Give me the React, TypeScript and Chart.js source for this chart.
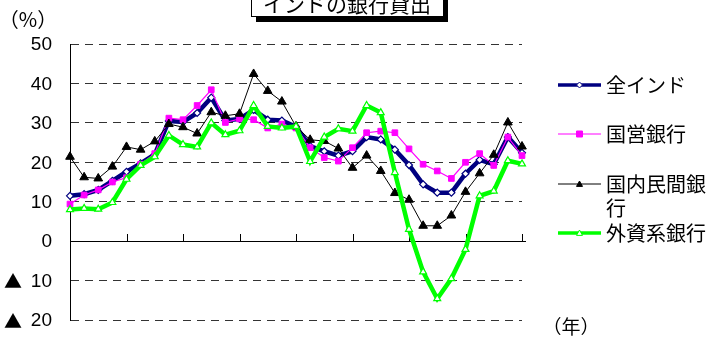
import React, { useEffect, useRef } from "react";
import { Chart, registerables } from "chart.js";

Chart.register(...registerables);

// Quarterly periods (33 observations, axis ticks every 4 quarters)
const periods = [
  "1", "2", "3", "4", "5", "6", "7", "8", "9", "10", "11",
  "12", "13", "14", "15", "16", "17", "18", "19", "20", "21", "22",
  "23", "24", "25", "26", "27", "28", "29", "30", "31", "32", "33",
];

// Loan growth, year on year (%)
const allIndia = [
  11.5, 11.9, 13.0, 15.3, 17.6, 19.7, 22.0, 30.5, 30.2, 32.5, 36.4,
  30.6, 31.0, 33.3, 30.8, 30.6, 29.0, 24.1, 22.8, 21.7, 22.8, 26.4,
  25.8, 23.2, 19.3, 14.4, 12.3, 12.3, 17.1, 20.6, 19.5, 26.4, 22.4,
];
const publicBanks = [
  9.4, 11.7, 13.0, 15.0, 16.1, 19.5, 22.2, 31.2, 30.8, 34.4, 38.4,
  30.1, 31.0, 30.8, 28.7, 29.7, 28.7, 23.7, 21.2, 20.3, 23.7, 27.5,
  27.9, 27.5, 23.4, 19.5, 17.8, 15.9, 20.0, 22.2, 19.2, 26.4, 21.7,
];
const privateBanks = [
  21.4, 16.2, 15.9, 18.9, 23.9, 23.2, 25.3, 29.7, 28.9, 27.3, 32.7,
  31.8, 32.3, 42.4, 38.1, 35.4, 29.1, 25.7, 25.4, 23.5, 18.6, 21.7,
  17.8, 12.2, 10.5, 3.9, 3.9, 6.5, 12.5, 17.2, 21.9, 30.1, 24.0,
];
const foreignBanks = [
  8.0, 8.3, 8.1, 9.8, 15.7, 19.2, 21.4, 26.8, 24.5, 23.9, 30.0,
  27.0, 28.0, 34.4, 29.1, 28.7, 29.1, 20.2, 26.4, 28.5, 27.9, 34.4,
  32.6, 17.4, 3.0, -7.8, -14.6, -9.5, -2.1, 11.5, 12.7, 20.4, 19.6,
];

const seriesNames = ["全インド", "国営銀行", "国内民間銀行", "外資系銀行"];
const yTicks = [50, 40, 30, 20, 10, 0, -10, -20];
const negMark = "▲";

const titleText = "インドの銀行貸出";
const unitText = "（%）";
const yearText = "（年）";

const JP = '"Noto Sans CJK JP", "Noto Sans", sans-serif';
const NUM = '"Liberation Sans", Arial, sans-serif';

type Marker = "diamond" | "square" | "triangle";

function drawMarker(
  ctx: CanvasRenderingContext2D,
  kind: Marker,
  x: number,
  y: number,
  r: number,
  fill: string,
  stroke: string,
  lw: number
) {
  ctx.save();
  ctx.beginPath();
  if (kind === "diamond") {
    ctx.moveTo(x, y - r);
    ctx.lineTo(x + r, y);
    ctx.lineTo(x, y + r);
    ctx.lineTo(x - r, y);
    ctx.closePath();
  } else if (kind === "square") {
    ctx.rect(x - r, y - r, r * 2, r * 2);
  } else {
    ctx.moveTo(x, y - r);
    ctx.lineTo(x + r, y + r * 0.8);
    ctx.lineTo(x - r, y + r * 0.8);
    ctx.closePath();
  }
  ctx.fillStyle = fill;
  ctx.fill();
  ctx.lineWidth = lw;
  ctx.strokeStyle = stroke;
  ctx.stroke();
  ctx.restore();
}

const legendRows = [
  { label: [seriesNames[0]], color: "#000080", width: 3.5, marker: "diamond" as Marker, fill: "#ffffff", y: 85 },
  { label: [seriesNames[1]], color: "#ff00ff", width: 1, marker: "square" as Marker, fill: "#ff00ff", y: 134 },
  { label: ["国内民間銀", "行"], color: "#000000", width: 1, marker: "triangle" as Marker, fill: "#000000", y: 184 },
  { label: [seriesNames[3]], color: "#00ff00", width: 3.5, marker: "triangle" as Marker, fill: "#ffffff", y: 233 },
];

const decorPlugin = {
  id: "decor",
  beforeDatasetsDraw(chart: any) {
    const { ctx } = chart;
    const x = chart.scales.x;
    const y = chart.scales.y;
    const y0 = Math.round(y.getPixelForValue(0));
    ctx.save();
    // solid zero line with upward tick marks every four quarters
    ctx.strokeStyle = "#000";
    ctx.lineWidth = 1;
    ctx.beginPath();
    ctx.moveTo(chart.chartArea.left, y0 + 0.5);
    ctx.lineTo(chart.chartArea.right + 4, y0 + 0.5);
    for (let i = 4; i < periods.length; i += 4) {
      const px = Math.round(x.getPixelForValue(i)) + 0.5;
      ctx.moveTo(px, y0);
      ctx.lineTo(px, y0 - 7);
    }
    ctx.stroke();
    ctx.restore();
  },
  afterDraw(chart: any) {
    const { ctx } = chart;
    const y = chart.scales.y;
    ctx.save();

    // value labels on the vertical axis; negatives carry a leading triangle
    ctx.fillStyle = "#000";
    ctx.textBaseline = "middle";
    for (const v of yTicks) {
      const py = y.getPixelForValue(v);
      ctx.font = `19px ${NUM}`;
      ctx.textAlign = "right";
      ctx.fillText(String(Math.abs(v)), 52, py + 1);
      if (v < 0) {
        ctx.font = `18px ${JP}`;
        ctx.textAlign = "left";
        ctx.fillText(negMark, 4, py + 1);
      }
    }

    // title box with drop shadow
    const bx = 251, by = -14, bw = 192, bh = 30;
    ctx.fillStyle = "#000";
    ctx.fillRect(bx + 5, by + 5, bw, bh + 1);
    ctx.fillStyle = "#fff";
    ctx.fillRect(bx, by, bw, bh);
    ctx.strokeStyle = "#000";
    ctx.lineWidth = 1;
    ctx.strokeRect(bx + 0.5, by + 0.5, bw, bh);
    ctx.fillStyle = "#000";
    ctx.font = `21px ${JP}`;
    ctx.textAlign = "center";
    ctx.textBaseline = "alphabetic";
    ctx.fillText(titleText, bx + bw / 2, 12);

    // unit labels
    ctx.font = `20px ${JP}`;
    ctx.textAlign = "center";
    ctx.textBaseline = "middle";
    ctx.fillText(unitText, 28, 19);
    ctx.font = `19px ${JP}`;
    ctx.fillText(yearText, 571, 327);

    // legend
    for (const row of legendRows) {
      ctx.strokeStyle = row.color;
      ctx.lineWidth = row.width;
      ctx.beginPath();
      ctx.moveTo(558, row.y);
      ctx.lineTo(601, row.y);
      ctx.stroke();
      drawMarker(ctx, row.marker, 579.5, row.y, 3, row.fill, row.color, 1);
      ctx.fillStyle = "#000";
      ctx.font = `20px ${JP}`;
      ctx.textAlign = "left";
      ctx.textBaseline = "middle";
      row.label.forEach((t, k) => ctx.fillText(t, 606, row.y + k * 24));
    }
    ctx.restore();
  },
};

export default function App() {
  const ref = useRef<HTMLCanvasElement | null>(null);

  useEffect(() => {
    if (!ref.current) return;
    const chart = new Chart(ref.current, {
      type: "line",
      data: {
        labels: periods,
        datasets: [
          {
            label: seriesNames[0],
            data: allIndia,
            borderColor: "#000080",
            borderWidth: 4.5,
            pointStyle: "rectRot",
            pointRadius: 3.5,
            pointBackgroundColor: "#ffffff",
            pointBorderColor: "#000080",
            pointBorderWidth: 1.2,
            order: 4,
          },
          {
            label: seriesNames[1],
            data: publicBanks,
            borderColor: "#ff00ff",
            borderWidth: 1.2,
            pointStyle: "rect",
            pointRadius: 4,
            pointBackgroundColor: "#ff00ff",
            pointBorderColor: "#ff00ff",
            pointBorderWidth: 1,
            order: 3,
          },
          {
            label: seriesNames[2],
            data: privateBanks,
            borderColor: "#000000",
            borderWidth: 1,
            pointStyle: "triangle",
            pointRadius: 5,
            pointBackgroundColor: "#000000",
            pointBorderColor: "#000000",
            pointBorderWidth: 1,
            order: 2,
          },
          {
            label: seriesNames[3],
            data: foreignBanks,
            borderColor: "#00ff00",
            borderWidth: 4.5,
            pointStyle: "triangle",
            pointRadius: 4,
            pointBackgroundColor: "#ffffff",
            pointBorderColor: "#00ff00",
            pointBorderWidth: 1.2,
            order: 1,
          },
        ],
      },
      options: {
        animation: false,
        responsive: false,
        events: [],
        layout: { padding: { top: 44, bottom: 22, right: 187, left: 0 } },
        elements: { line: { tension: 0 } },
        plugins: { legend: { display: false }, tooltip: { enabled: false }, title: { display: false } },
        scales: {
          x: { type: "category", offset: false, display: false },
          y: {
            min: -20,
            max: 50,
            afterFit: (s: any) => {
              s.width = 70;
            },
            afterBuildTicks: (s: any) => {
              s.ticks = yTicks.slice().reverse().map((v) => ({ value: v }));
            },
            ticks: { display: false },
            grid: {
              drawTicks: false,
              color: (c: any) => (c.tick && c.tick.value === 0 ? "rgba(0,0,0,0)" : "#333"),
              lineWidth: 1,
            },
            border: {
              display: true,
              color: "#000",
              width: 1,
              dash: (c: any) => (c.tick && c.tick.value !== 0 ? [8, 6] : []),
            },
          },
        },
      },
      plugins: [decorPlugin],
    });
    return () => chart.destroy();
  }, []);

  return (
    <div style={{ position: "absolute", left: 0, top: 0, width: 709, height: 342, background: "#fff" }}>
      <canvas ref={ref} width={709} height={342} style={{ display: "block" }} />
    </div>
  );
}
